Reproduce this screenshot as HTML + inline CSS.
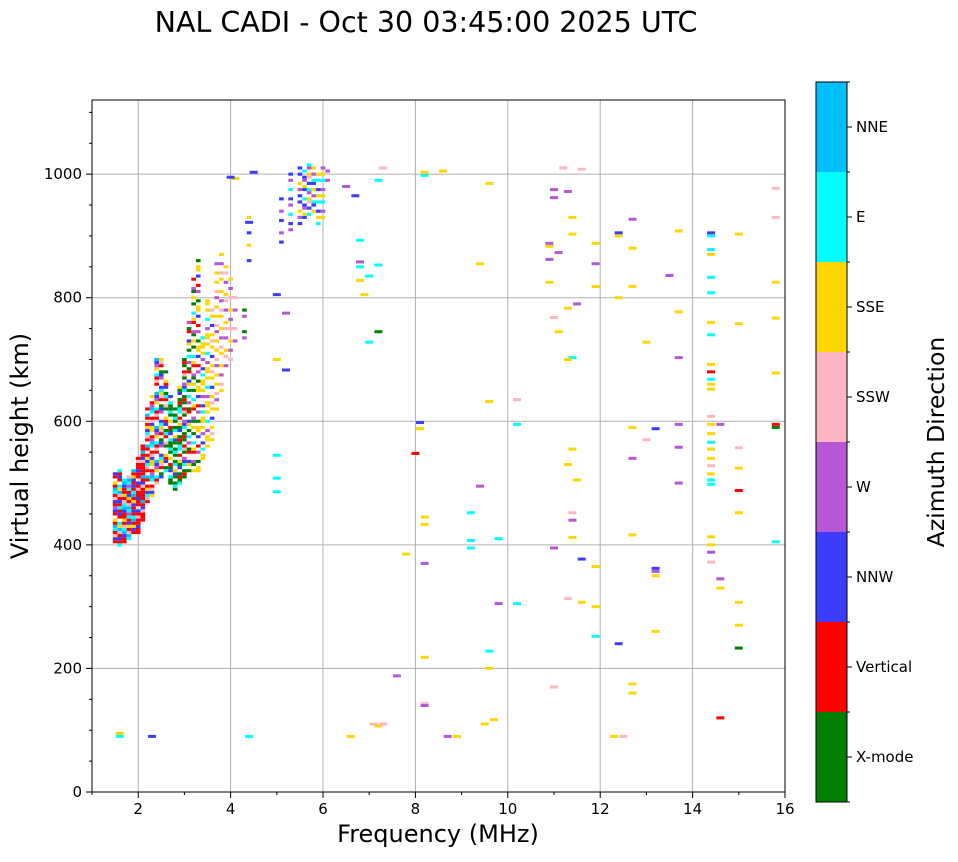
<!DOCTYPE html>
<html><head><meta charset="utf-8">
<style>
body{margin:0;background:#fff;width:958px;height:857px;overflow:hidden;font-family:"Liberation Sans","DejaVu Sans",sans-serif;}
svg text{font-family:"DejaVu Sans","Liberation Sans",sans-serif;}
</style></head>
<body>
<svg id="chart" width="958" height="857" viewBox="0 0 958 857" xmlns="http://www.w3.org/2000/svg">
<text x="426" y="32" font-size="28.5" text-anchor="middle">NAL CADI - Oct 30 03:45:00 2025 UTC</text>
<g id="grid"></g>
<g id="marks"></g>
<rect x="92" y="100" width="693" height="692" fill="none" stroke="#000" stroke-width="1"/>
<g id="axes"></g>
<text x="438" y="842" font-size="24" text-anchor="middle">Frequency (MHz)</text>
<text transform="translate(28,446) rotate(-90)" font-size="24" text-anchor="middle">Virtual height (km)</text>
<g id="colorbar"></g>
<text transform="translate(944,442) rotate(-90)" font-size="23.5" text-anchor="middle">Azimuth Direction</text>
</svg>
<script>
const xTicks=[2,4,6,8,10,12,14,16];
const yTicks=[0,200,400,600,800,1000];
const dirNames=["X-mode","Vertical","NNW","W","SSW","SSE","E","NNE"];
const dirCodes=["x","r","b","w","s","y","e","n"];
const dirColors=["#008000","#ff0000","#3c3cff","#b657d6","#ffb6c1","#ffd700","#00ffff","#00bfff"];
// dense trace columns: frequency, lower height, upper height, direction pattern
const colF=[1.5,1.6,1.7,1.8,1.9,2.0,2.1,2.2,2.3,2.4,2.5,2.6,2.7,2.8,2.9,3.0,3.1,3.2,3.3,3.4,3.5,3.6,3.7,3.8,3.9,4.0,4.1,4.3,4.4,5.1,5.3,5.5,5.6,5.7,5.8,5.9,6.0,6.1];
const colLo=[405,400,405,410,420,420,440,470,480,500,510,520,500,490,500,510,520,520,520,540,560,570,620,650,690,700,720,730,860,890,910,920,930,935,940,920,930,990];
const colHi=[515,520,505,510,520,540,560,620,640,700,700,680,640,620,660,700,760,830,860,740,800,780,860,870,860,840,800,780,930,960,1000,1010,1015,1015,1010,1005,1010,1010];
const colPat=["rbsrenry.rbw","erbrsnye.rbr","rrbnesry","ensrybrew","rbyrnerb","rrbrrsrb.","rrrsbrnr","rsebyr.rn.","ybsr.enwr.y","sre.ywbn..r","bx.rsyeb..w","ex.bry..xs.r","xxe.bxr.y.xe","xex.xby.ex.","exrx.bxy.r.e","xrx.ebw.xsr.","x.yb..rx.w.e.","y.xw..ry.e..x.","yy.x..w.r..b.","yy.e.b..w.y.","y.yy.w..e..","y.s.y..b..","y..w.s..y..","y.s..w..y...","w..s.y...","s..w..y...","..w...s...",".w.x...","b....y...","b..w...","w.b..e..","b.w.y..b.","by.wb.e..","e.b.sy.w","y.be.w.","e.y.b..","y.w..e.","w.."];
// scattered echoes
const ptF=[14.4,14.4,14.4,14.4,14.4,14.4,14.4,14.4,14.4,14.4,14.4,14.4,14.4,14.4,14.4,14.4,14.4,14.4,14.4,14.4,14.4,14.4,14.4,14.4,14.4,14.4,14.4,14.6,14.6,14.6,14.6,15.0,15.0,15.0,15.0,15.0,15.0,15.0,15.0,15.0,15.8,15.8,15.8,15.8,15.8,15.8,15.8,15.8,13.7,13.5,13.7,13.7,13.7,13.7,13.7,13.2,13.2,13.2,13.2,13.2,13.0,13.0,12.7,12.7,12.7,12.7,12.7,12.7,12.7,12.7,12.4,12.4,12.4,12.4,12.3,12.5,11.9,11.9,11.9,11.9,11.9,11.9,11.4,11.4,11.3,11.5,11.4,11.3,11.4,11.3,11.5,11.4,11.4,11.4,11.6,11.3,11.6,11.1,11.1,11.0,11.0,11.0,10.9,10.9,10.9,10.9,11.0,11.0,11.2,11.3,11.6,10.2,10.2,10.2,9.8,9.8,9.6,9.6,9.2,9.2,9.2,9.4,9.6,9.6,9.4,9.5,9.7,8.2,8.2,8.6,8.1,8.1,8.0,8.2,8.2,8.2,8.2,8.2,8.2,8.7,8.9,7.6,7.8,7.1,7.2,7.3,6.6,7.2,7.3,6.7,6.5,6.8,6.8,6.8,7.0,6.8,7.2,6.9,7.0,7.2,5.0,5.0,5.0,5.0,5.2,5.0,5.2,4.4,2.3,1.6,1.6,4.5,4.1,4.0,4.4];
const ptH=[905,900,878,870,833,808,760,740,692,680,668,660,652,608,595,580,566,555,540,528,515,505,498,413,400,388,372,595,345,330,120,903,758,557,524,488,452,307,270,233,977,930,825,767,678,595,590,405,908,836,777,703,595,558,500,588,362,357,350,260,728,570,927,880,818,590,540,416,175,160,905,900,800,240,90,90,888,855,818,365,300,252,930,903,783,790,703,700,555,530,505,452,440,412,377,313,307,745,873,768,395,170,888,883,862,825,975,962,1010,972,1008,635,595,305,305,410,985,632,452,407,395,495,228,200,855,110,117,1003,998,1005,598,588,548,445,433,370,218,143,140,90,90,188,385,110,107,110,90,990,1010,965,980,893,858,850,835,828,853,805,728,745,545,508,486,700,683,805,775,90,90,95,90,1003,993,995,922];
const ptD=["b","e","e","y","e","e","y","e","y","r","e","y","y","s","y","y","e","y","y","s","y","e","e","y","y","w","s","w","w","y","r","y","y","s","y","r","y","y","y","x","s","s","y","y","y","r","x","e","y","w","y","w","w","w","w","b","b","w","y","y","y","s","w","y","y","y","w","y","y","y","b","y","y","b","y","s","y","w","y","y","y","e","y","y","y","w","e","y","y","y","y","s","w","y","b","s","y","y","w","s","w","s","w","y","w","y","w","w","s","w","s","s","e","e","w","e","y","y","e","e","e","w","e","y","y","y","y","y","e","y","b","y","r","y","y","w","y","s","w","w","y","w","y","s","y","s","y","e","s","b","w","e","w","e","e","y","e","y","e","x","e","e","e","y","b","b","w","e","b","y","e","b","y","b"];
const X=f=>92+(f-1)*(693/15);
const Y=h=>792-h*(692/1120);
const NS="http://www.w3.org/2000/svg";
function mk(tag,attrs,parent){const e=document.createElementNS(NS,tag);for(const k in attrs)e.setAttribute(k,attrs[k]);parent.appendChild(e);return e;}
const grid=document.getElementById('grid'),axes=document.getElementById('axes'),marks=document.getElementById('marks'),cb=document.getElementById('colorbar');
xTicks.forEach(t=>{
  const l=mk('line',{x1:X(t),x2:X(t),y1:100,y2:792,stroke:'#b0b0b0','stroke-width':1},grid);
  
  
  mk('line',{x1:X(t),x2:X(t),y1:792,y2:798,stroke:'#000'},axes);
  const tx=mk('text',{x:X(t),y:814,'font-size':15,'text-anchor':'middle'},axes);tx.textContent=t;
  
  
});
for(let f=1;f<=15;f+=2){mk('line',{x1:X(f),x2:X(f),y1:792,y2:795,stroke:'#000'},axes);}
yTicks.forEach(t=>{
  const l=mk('line',{x1:92,x2:785,y1:Y(t),y2:Y(t),stroke:'#b0b0b0','stroke-width':1},grid);
  
  
  mk('line',{x1:86,x2:92,y1:Y(t),y2:Y(t),stroke:'#000'},axes);
  const tx=mk('text',{x:82,y:Y(t)+5,'font-size':15,'text-anchor':'end'},axes);tx.textContent=t;
  
  
});
for(let h=50;h<=1100;h+=50){if(h%200)mk('line',{x1:89,x2:92,y1:Y(h),y2:Y(h),stroke:'#000'},axes);}
const cw=693/15*0.1, ch=692/1120*5;
colF.forEach((f,i)=>{
  const pat=colPat[i];let k=0;
  for(let h=colLo[i];h<=colHi[i];h+=5,k++){
    const c=pat[k%pat.length];const d=dirCodes.indexOf(c);if(d<0)continue;
    const r=mk('rect',{x:X(f)-cw/2,y:Y(h)-ch/2,width:cw,height:ch,fill:dirColors[d]},marks);
    
    
  }
});
ptF.forEach((f,i)=>{
  let d=dirCodes.indexOf(ptD[i]||'b');if(d<0)d=2;
  const r=mk('rect',{x:X(f)-4,y:Y(ptH[i])-1.5,width:8,height:3,fill:dirColors[d]},marks);
  
  
});
const segH=720/8;
dirNames.forEach((n,i)=>{
  const y0=802-(i+1)*segH;
  const r=mk('rect',{x:816,y:y0,width:31,height:segH,fill:dirColors[i]},cb);
  
  
  mk('line',{x1:847,x2:852,y1:y0+segH/2,y2:y0+segH/2,stroke:'#000'},cb);
  const t=mk('text',{x:856,y:y0+segH/2+5,'font-size':15},cb);t.textContent=n;
  
  
});
for(let i=0;i<=8;i++){mk('line',{x1:847,x2:850,y1:802-i*segH,y2:802-i*segH,stroke:'#000'},cb);}
const fr=mk('rect',{x:816,y:82,width:31,height:720,fill:'none',stroke:'#000'},cb);


</script>
</body></html>
